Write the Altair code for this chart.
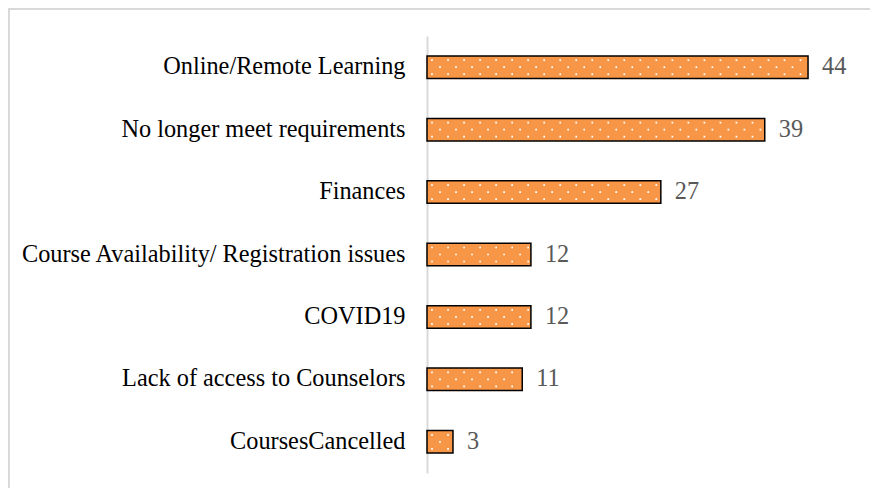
import altair as alt
import pandas as pd

categories = [
    "Online/Remote Learning",
    "No longer meet requirements",
    "Finances",
    "Course Availability/ Registration issues",
    "COVID19",
    "Lack of access to Counselors",
    "CoursesCancelled",
]
values = [44, 39, 27, 12, 12, 11, 3]

df = pd.DataFrame({"cat": categories, "val": values})

# decorative dot pattern derived from the values
step = 1.85
rows = []
for c, v in zip(categories, values):
    for row, start in (("top", 0.58), ("mid", 1.5), ("bot", 0.58)):
        x = start
        while x < v - 0.25:
            rows.append({"cat": c, "x": x, "row": row})
            x += step
dots = pd.DataFrame(rows)

FONT = "Liberation Serif"
W, H = 433, 437
FS = 24.3

xs = alt.Scale(domain=[0, 50], nice=False, zero=True)
ys = alt.Scale(domain=categories, paddingInner=0.64, paddingOuter=0.32)

base = alt.Chart(df)

bars = base.mark_bar(color="#F79646", stroke="black", strokeWidth=1.5).encode(
    x=alt.X("val:Q", scale=xs, axis=None),
    y=alt.Y(
        "cat:N",
        scale=ys,
        sort=categories,
        axis=alt.Axis(
            title=None,
            labelFont=FONT,
            labelFontSize=FS,
            labelColor="black",
            labelPadding=22,
            labelLimit=600,
            ticks=False,
            domainColor="#d9d9d9",
            domainWidth=2,
        ),
    ),
)

dot_layers = []
for row, off in (("top", -7), ("mid", 0), ("bot", 7)):
    dot_layers.append(
        alt.Chart(dots)
        .transform_filter(alt.datum.row == row)
        .mark_square(color="white", size=3, opacity=1, yOffset=off)
        .encode(
            x=alt.X("x:Q", scale=xs),
            y=alt.Y("cat:N", scale=ys, sort=categories),
        )
    )

labels = base.mark_text(
    align="left", dx=14, font=FONT, fontSize=FS, color="#595959"
).encode(
    x=alt.X("val:Q", scale=xs),
    y=alt.Y("cat:N", scale=ys, sort=categories),
    text="val:Q",
)

border = alt.Chart(df.head(1)).mark_rule(color="#d9d9d9", strokeWidth=2).encode(
    x=alt.value(-419), x2=alt.value(W + 10), y=alt.value(-27)
)
border2 = alt.Chart(df.head(1)).mark_rule(color="#d9d9d9", strokeWidth=2).encode(
    x=alt.value(-418), y=alt.value(-27), y2=alt.value(H + 15)
)

chart = (
    alt.layer(bars, *dot_layers, labels, border, border2)
    .properties(
        width=W,
        height=H,
        autosize=alt.AutoSizeParams(type="none"),
        padding={"left": 419, "top": 28, "right": 10, "bottom": 15},
    )
    .configure_view(stroke=None)
    .configure_axis(grid=False)
)

chart.save("out.html", embed_options={"renderer": "svg", "actions": False})
